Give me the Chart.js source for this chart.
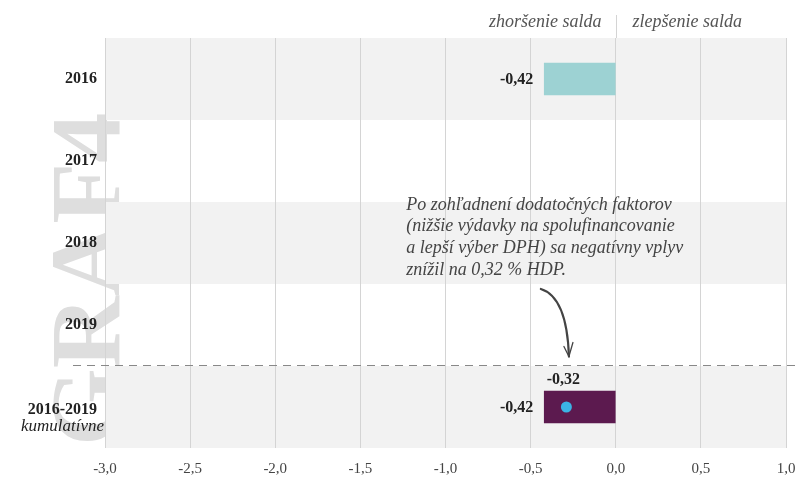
<!DOCTYPE html>
<html>
<head>
<meta charset="utf-8">
<script src="https://cdn.jsdelivr.net/npm/chart.js@4/dist/chart.umd.min.js"></script>
<style>
  html, body { margin: 0; padding: 0; background: #fff; }
  #wrap { width: 799px; height: 484px; position: relative; }
</style>
</head>
<body>
<div id="wrap"><canvas id="graf4"></canvas></div>
<script>
// ---- data ----
const categories = ["2016", "2017", "2018", "2019", "2016-2019"];
const barValues = [-0.42, null, null, null, -0.42];
const barColors = ["#9dd2d3", "#9dd2d3", "#9dd2d3", "#9dd2d3", "#5c1a4f"];
const dotValues = [null, null, null, null, -0.29];
const dotLabels = ["", "", "", "", "-0,32"];
const xTicks = [-3, -2.5, -2, -1.5, -1, -0.5, 0, 0.5, 1];
const noteLines = [
  "Po zohľadnení dodatočných faktorov",
  "(nižšie výdavky na spolufinancovanie",
  "a lepší výber DPH) sa negatívny vplyv",
  "znížil na 0,32 % HDP.",
];

const SERIF = '"Liberation Serif", "DejaVu Serif", serif';
const fmt = (v) => v.toFixed(2).replace(".", ",");

/* ---- background: watermark, bands, header ---- */
const backdrop = {
  id: "backdrop",
  beforeDraw(chart) {
    const { ctx, chartArea: a } = chart;
    const x = chart.scales.x;
    const y = chart.scales.y;

    // GRAF 4 watermark
    ctx.save();
    ctx.translate(119, 446);
    ctx.rotate(-Math.PI / 2);
    ctx.font = "bold 100px " + SERIF;
    ctx.fillStyle = "#dedede";
    ctx.textBaseline = "alphabetic";
    ctx.textAlign = "left";
    ctx.fillText("GRAF4", 0, 0);
    ctx.restore();

    // alternating bands
    ctx.save();
    const step = (y.getPixelForValue(1) - y.getPixelForValue(0));
    ctx.fillStyle = "#f2f2f2";
    categories.forEach((c, i) => {
      if (i % 2 !== 0) return;
      const cy = y.getPixelForValue(i);
      ctx.fillRect(a.left, cy - step / 2, a.right - a.left, step);
    });

    // zero line above plot
    const x0 = Math.round(x.getPixelForValue(0)) + 0.5;
    ctx.strokeStyle = "#d4d4d4";
    ctx.lineWidth = 1;
    ctx.beginPath();
    ctx.moveTo(x0, 15);
    ctx.lineTo(x0, a.top);
    ctx.stroke();

    ctx.font = "italic 18px " + SERIF;
    ctx.fillStyle = "#555";
    ctx.textBaseline = "alphabetic";
    ctx.textAlign = "right";
    ctx.fillText("zhoršenie salda", x0 - 15, 27);
    ctx.textAlign = "left";
    ctx.fillText("zlepšenie salda", x0 + 16, 27);
    ctx.restore();
  },

  afterDatasetsDraw(chart) {
    const { ctx, chartArea: a } = chart;
    const x = chart.scales.x;
    const y = chart.scales.y;
    const step = (y.getPixelForValue(1) - y.getPixelForValue(0));

    ctx.save();
    // dashed separator
    const sepY = Math.round((y.getPixelForValue(3) + y.getPixelForValue(4)) / 2) - 0.5;
    ctx.strokeStyle = "#888";
    ctx.lineWidth = 1;
    ctx.setLineDash([8, 6]);
    ctx.beginPath();
    ctx.moveTo(73, sepY);
    ctx.lineTo(chart.width, sepY);
    ctx.stroke();
    ctx.setLineDash([]);

    // category labels
    ctx.fillStyle = "#222";
    ctx.textAlign = "right";
    ctx.textBaseline = "middle";
    categories.forEach((c, i) => {
      const cy = y.getPixelForValue(i);
      ctx.font = "bold 16px " + SERIF;
      if (i === categories.length - 1) {
        ctx.fillText(c, a.left - 8, cy + 3);
        ctx.font = "italic 17px " + SERIF;
        ctx.fillText("kumulatívne", a.left - 1, cy + 20);
      } else {
        ctx.fillText(c, a.left - 8, cy);
      }
    });

    // value labels
    ctx.font = "bold 16px " + SERIF;
    barValues.forEach((v, i) => {
      if (v == null) return;
      const cy = y.getPixelForValue(i);
      ctx.textAlign = "right";
      ctx.fillText(fmt(v), x.getPixelForValue(v) - 11, cy + 1);
    });
    dotValues.forEach((v, i) => {
      if (v == null) return;
      const cy = y.getPixelForValue(i);
      ctx.textAlign = "center";
      ctx.fillText(dotLabels[i], x.getPixelForValue(v) - 3, cy - 27);
    });

    // note
    ctx.font = "italic 18px " + SERIF;
    ctx.fillStyle = "#444";
    ctx.textAlign = "left";
    const nx = x.getPixelForValue(-1.23);
    noteLines.forEach((t, k) => {
      ctx.fillText(t, nx, y.getPixelForValue(2) - 38 + k * 21.7);
    });

    // curved arrow
    const sx = x.getPixelForValue(-0.44);
    const sy = y.getPixelForValue(2) + step / 2 + 5;
    const ex = x.getPixelForValue(-0.275);
    const ey = sepY - 9;
    ctx.strokeStyle = "#444";
    ctx.lineWidth = 2.2;
    ctx.lineCap = "round";
    ctx.beginPath();
    ctx.moveTo(sx, sy);
    ctx.quadraticCurveTo(ex - 2, sy + 8, ex, ey);
    ctx.stroke();
    ctx.lineWidth = 1.3;
    ctx.beginPath();
    ctx.moveTo(ex - 5, ey - 10);
    ctx.lineTo(ex, ey);
    ctx.lineTo(ex + 4, ey - 14);
    ctx.stroke();
    ctx.restore();
  },
};

const ctx = document.getElementById("graf4").getContext("2d");
new Chart(ctx, {
  data: {
    labels: categories,
    datasets: [
      {
        type: "bar",
        data: barValues,
        backgroundColor: barColors,
        barThickness: 32,
        order: 2,
      },
      {
        type: "line",
        data: dotValues,
        showLine: false,
        pointRadius: 5.5,
        pointBackgroundColor: "#3bb4e5",
        pointBorderWidth: 0,
        order: 1,
      },
    ],
  },
  options: {
    indexAxis: "y",
    responsive: true,
    maintainAspectRatio: false,
    animation: false,
    layout: { padding: { left: 105, right: 13, top: 38, bottom: -6 } },
    plugins: { legend: { display: false }, tooltip: { enabled: false } },
    scales: {
      x: {
        type: "linear",
        min: -3,
        max: 1,
        afterBuildTicks: (s) => { s.ticks = xTicks.map((v) => ({ value: v })); },
        afterFit: (s) => { s.paddingLeft = 0; s.paddingRight = 0; },
        ticks: {
          callback: (v) => Number(v).toFixed(1).replace(".", ","),
          font: { family: SERIF, size: 15 },
          color: "#444",
          padding: 12,
        },
        grid: { color: "#d4d4d4", drawTicks: false },
        border: { display: false },
      },
      y: {
        type: "category",
        display: false,
        offset: true,
        grid: { display: false },
      },
    },
  },
  plugins: [backdrop],
});
</script>
</body>
</html>
